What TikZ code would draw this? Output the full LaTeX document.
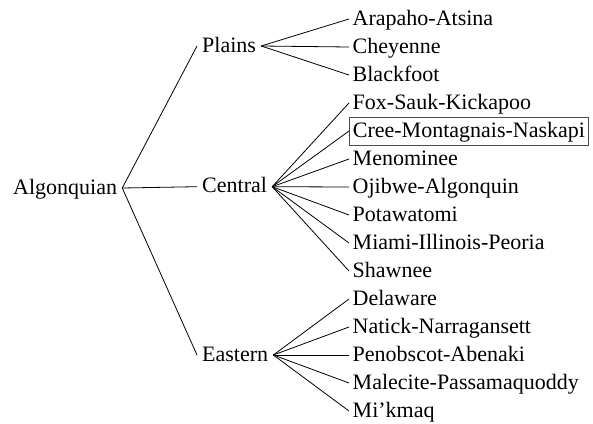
\documentclass[tikz,border=0pt]{standalone}
\usepackage{fontspec}
\setmainfont{Liberation Serif}
\tikzset{
  lang/.style={anchor=west,inner xsep=3.5pt,inner ysep=3pt,text height=17pt,text depth=5pt},
  family/.style={anchor=west,inner xsep=5pt,inner ysep=3pt,text height=17pt,text depth=5pt},
  branch/.style={line width=0.8pt,line join=round}
}
\begin{document}
\begin{tikzpicture}[x=1pt,y=-1pt,font=\fontsize{22}{26}\selectfont]
\useasboundingbox (0,0) rectangle (593,423);
% root and the three groups
\node[family] (algonquian) at (8,188) {Algonquian};
\node[family] (plains) at (197,46) {Plains};
\node[family] (central) at (197,186.7) {Central};
\node[family] (eastern) at (197,355) {Eastern};
% languages
\node[lang] (arapaho) at (349,19) {Arapaho-Atsina};
\node[lang] (cheyenne) at (349,47) {Cheyenne};
\node[lang] (blackfoot) at (349,75) {Blackfoot};
\node[lang] (fox) at (349,103) {Fox-Sauk-Kickapoo};
\node[lang,draw=black!70,line width=0.7pt] (cree) at (349,131) {Cree-Montagnais-Naskapi};
\node[lang] (menominee) at (349,159) {Menominee};
\node[lang] (ojibwe) at (349,187) {Ojibwe-Algonquin};
\node[lang] (potawatomi) at (349,215) {Potawatomi};
\node[lang] (miami) at (349,243) {Miami-Illinois-Peoria};
\node[lang] (shawnee) at (349,271) {Shawnee};
\node[lang] (delaware) at (349,299) {Delaware};
\node[lang] (natick) at (349,327) {Natick-Narragansett};
\node[lang] (penobscot) at (349,355) {Penobscot-Abenaki};
\node[lang] (malecite) at (349,383) {Malecite-Passamaquoddy};
\node[lang] (mikmaq) at (349,411) {Mi'kmaq};
% branches from the root
\path[branch,draw] (algonquian.east) to (plains.west);
\path[branch,draw] (algonquian.east) to (central.west);
\path[branch,draw] (algonquian.east) to (eastern.west);
% Plains
\path[branch,draw] (plains.east) to (arapaho.west);
\path[branch,draw] (plains.east) to (cheyenne.west);
\path[branch,draw] (plains.east) to (blackfoot.west);
% Central
\path[branch,draw] (central.east) to (fox.west);
\path[branch,draw] (central.east) to (cree.west);
\path[branch,draw] (central.east) to (menominee.west);
\path[branch,draw] (central.east) to (ojibwe.west);
\path[branch,draw] (central.east) to (potawatomi.west);
\path[branch,draw] (central.east) to (miami.west);
\path[branch,draw] (central.east) to (shawnee.west);
% Eastern
\path[branch,draw] (eastern.east) to (delaware.west);
\path[branch,draw] (eastern.east) to (natick.west);
\path[branch,draw] (eastern.east) to (penobscot.west);
\path[branch,draw] (eastern.east) to (malecite.west);
\path[branch,draw] (eastern.east) to (mikmaq.west);
\end{tikzpicture}
\end{document}
